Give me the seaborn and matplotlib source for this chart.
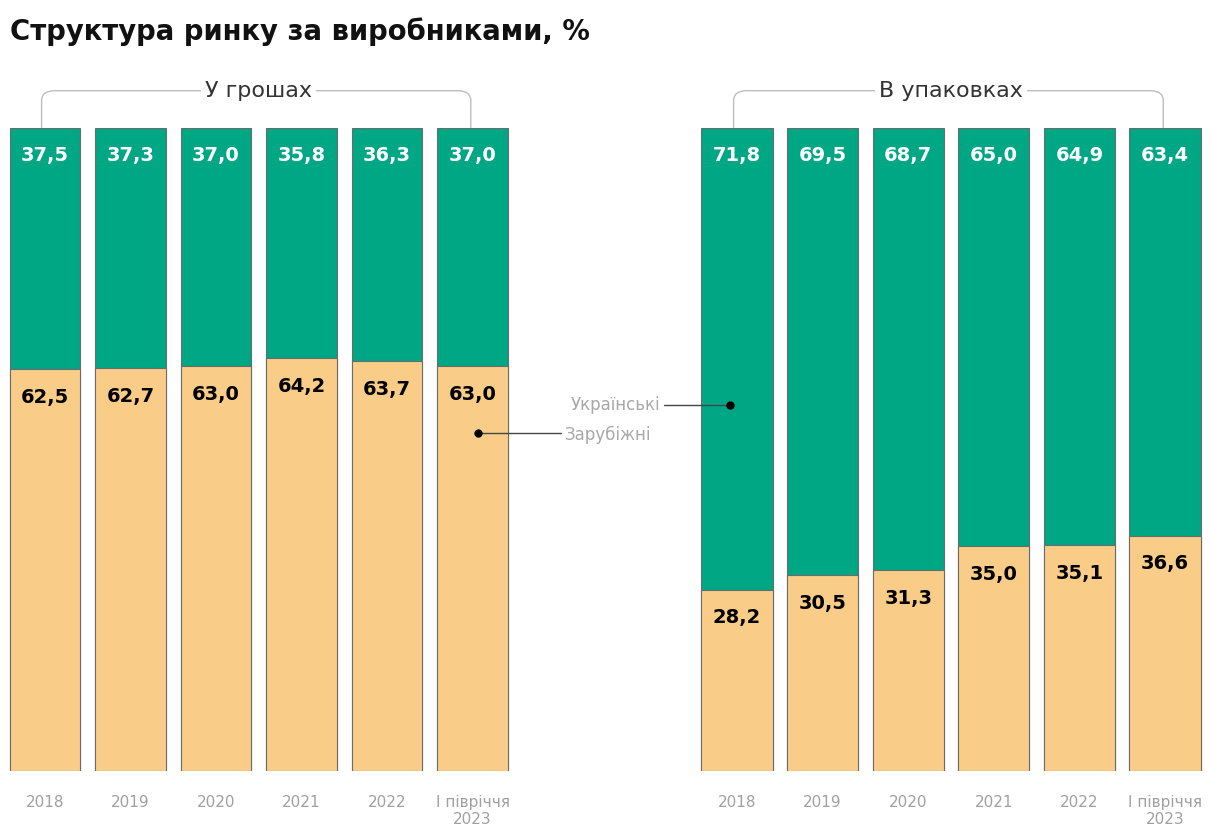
import matplotlib.pyplot as plt
import seaborn as sns
from matplotlib.lines import Line2D
from matplotlib.path import Path
from matplotlib.patches import PathPatch

# дані: частка ринку, %
years = ['2018', '2019', '2020', '2021', '2022', 'І півріччя\n2023']
money_ua = [37.5, 37.3, 37.0, 35.8, 36.3, 37.0]
money_foreign = [62.5, 62.7, 63.0, 64.2, 63.7, 63.0]
pack_ua = [71.8, 69.5, 68.7, 65.0, 64.9, 63.4]
pack_foreign = [28.2, 30.5, 31.3, 35.0, 35.1, 36.6]

GREEN = '#00A784'
PEACH = '#F9CD87'
EDGE = '#6b6b6b'

sns.set_theme(style='white')
plt.rcParams['font.family'] = ['DejaVu Sans']

W, H = 1211, 832
fig = plt.figure(figsize=(W / 100, H / 100), dpi=100)


def fx(px):
    return px / W


def fy(py):
    return 1 - py / H


ax_l = fig.add_axes([fx(2.25), fy(771), fx(513), (771 - 128) / H])
ax_r = fig.add_axes([fx(694.2), fy(771), fx(513.6), (771 - 128) / H])


def draw_panel(ax, ua, foreign, title):
    totals = [u + f for u, f in zip(ua, foreign)]
    sns.barplot(x=years, y=totals, order=years, color=GREEN, saturation=1,
                width=0.83, edgecolor=EDGE, linewidth=0.8, ax=ax)
    sns.barplot(x=years, y=foreign, order=years, color=PEACH, saturation=1,
                width=0.83, edgecolor=EDGE, linewidth=0.8, ax=ax)
    ax.set_xlim(-0.5, 5.5)
    ax.set_ylim(0, 100)
    for s in ax.spines.values():
        s.set_visible(False)
    ax.set_yticks([])
    ax.set_xlabel('')
    ax.set_ylabel('')
    ax.tick_params(axis='x', length=0, pad=17, labelsize=11, labelcolor='#a0a0a0')
    for i, (u, f) in enumerate(zip(ua, foreign)):
        ax.text(i, u + f - 4.2, f'{u:.1f}'.replace('.', ','), ha='center', va='center',
                color='white', fontsize=14, fontweight='bold')
        ax.text(i, f - 4.4, f'{f:.1f}'.replace('.', ','), ha='center', va='center',
                color='black', fontsize=14, fontweight='bold')
    # дужка над групою з заокругленими кутами
    top = 105.8
    xl, xr = -0.04, 4.98
    verts = [(xl, 100), (xl, top - 1.6), (xl, top), (xl + 0.15, top),
             (xr - 0.15, top), (xr, top), (xr, top - 1.6), (xr, 100)]
    codes = [Path.MOVETO, Path.LINETO, Path.CURVE3, Path.CURVE3,
             Path.LINETO, Path.CURVE3, Path.CURVE3, Path.LINETO]
    ax.add_patch(PathPatch(Path(verts, codes), facecolor='none', edgecolor='#bdbdbd',
                           lw=1, clip_on=False))
    ax.text(2.5, top, title, ha='center', va='center', fontsize=16, color='#333333',
            bbox=dict(facecolor='white', edgecolor='none', pad=3))


draw_panel(ax_l, money_ua, money_foreign, 'У грошах')
draw_panel(ax_r, pack_ua, pack_foreign, 'В упаковках')

fig.text(fx(10), fy(32), 'Структура ринку за виробниками, %', fontsize=19.8,
         fontweight='bold', color='#111111', ha='left', va='center')

# підписи-легенда
fig.text(fx(660), fy(405), 'Українські', ha='right', va='center', fontsize=12,
         color='#a8a8a8')
fig.text(fx(565), fy(435), 'Зарубіжні', ha='left', va='center', fontsize=12,
         color='#a8a8a8')
fig.add_artist(Line2D([fx(664), fx(730)], [fy(405), fy(405)], color='#444444', lw=1))
fig.add_artist(Line2D([fx(730)], [fy(405)], marker='o', markersize=5, color='black'))
fig.add_artist(Line2D([fx(478), fx(561)], [fy(433), fy(433)], color='#444444', lw=1))
fig.add_artist(Line2D([fx(478)], [fy(433)], marker='o', markersize=5, color='black'))

fig.savefig('out.png', dpi=100)
